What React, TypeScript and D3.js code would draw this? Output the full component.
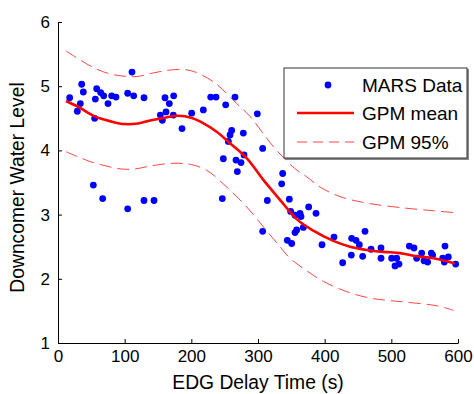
import React, { useRef, useEffect } from 'react';
import * as d3 from 'd3';

// MARS data points (EDG delay time, downcomer water level)
const marsTime = [17.5, 29, 33.5, 35.5, 38, 53, 55, 56, 58, 64, 67, 68.5, 75, 80.5, 87, 104.5, 104.5, 111, 113.5, 129, 129, 144,
  153.5, 156.5, 160.5, 162, 167, 173, 173.5, 186, 200.5, 218, 229, 237, 251.5, 265.5, 299, 260.5, 258, 255.5, 278, 307, 279,
  248, 267, 274.5, 269, 246.5, 314, 337, 335.5, 347, 376, 387, 349, 355.5, 363, 364.5, 368, 358, 355.5, 307, 344, 350.5,
  396, 414, 440.5, 447, 452, 460.5, 469.5, 484.5, 484.5, 440, 427, 457, 500.5, 508, 505.5, 511.5, 527, 534, 538, 545.5,
  549, 554.5, 560, 562, 580.5, 577, 579.5, 585.5, 596.5];
const marsLevel = [4.82, 4.61, 4.73, 5.03, 4.91, 3.46, 4.50, 4.80, 4.96, 4.90, 3.25, 4.85, 4.73, 4.85, 4.83, 4.89, 3.09, 5.22, 4.85, 4.82, 3.22, 3.22,
  4.55, 4.47, 4.82, 4.60, 4.73, 4.55, 4.85, 4.34, 4.58, 4.63, 4.83, 4.83, 4.71, 4.83, 4.57, 4.31, 4.24, 4.14, 4.27, 4.03, 3.93,
  3.87, 3.85, 3.81, 3.67, 3.25, 3.22, 3.64, 3.48, 3.24, 3.12, 3.02, 3.05, 2.99, 3.02, 2.97, 2.80, 2.76, 2.72, 2.74, 2.60, 2.55,
  2.53, 2.65, 2.63, 2.60, 2.53, 2.74, 2.46, 2.48, 2.32, 2.37, 2.25, 2.35, 2.32, 2.32, 2.20, 2.23, 2.51, 2.48, 2.32, 2.40,
  2.28, 2.26, 2.40, 2.37, 2.51, 2.32, 2.26, 2.34, 2.23];

// GPM mean
const meanTime = [12, 30, 55, 80, 100, 120, 140, 160, 180, 200, 215, 238, 258, 283, 308, 333, 358, 383, 413, 438, 463, 488, 513, 538, 563, 595];
const meanLevel = [4.77, 4.68, 4.53, 4.45, 4.41, 4.42, 4.47, 4.51, 4.54, 4.51, 4.44, 4.29, 4.11, 3.88, 3.54, 3.23, 2.93, 2.75, 2.59, 2.50, 2.45, 2.42, 2.40, 2.35, 2.32, 2.24];

// GPM 95% bounds
const upperTime = [12, 33, 55, 75, 95, 118, 140, 160, 180, 200, 233, 268, 288, 323, 355, 373, 393, 423, 463, 513, 563, 595];
const upperLevel = [5.55, 5.41, 5.28, 5.20, 5.16, 5.15, 5.20, 5.24, 5.26, 5.24, 5.07, 4.73, 4.53, 4.06, 3.72, 3.59, 3.43, 3.28, 3.18, 3.11, 3.06, 3.03];
const lowerTime = [12, 30, 50, 75, 95, 115, 135, 160, 180, 200, 223, 253, 283, 308, 333, 348, 378, 398, 433, 468, 498, 528, 568, 593];
const lowerLevel = [3.98, 3.90, 3.82, 3.75, 3.71, 3.71, 3.75, 3.79, 3.80, 3.78, 3.69, 3.43, 3.12, 2.81, 2.50, 2.32, 2.09, 1.96, 1.80, 1.70, 1.66, 1.63, 1.58, 1.51];

const xTicks = [0, 100, 200, 300, 400, 500, 600];
const yTicks = [1, 2, 3, 4, 5, 6];
const legendLabels = ['MARS Data', 'GPM mean', 'GPM 95%'];

function App() {
  const ref = useRef<SVGSVGElement>(null);

  useEffect(() => {
    const svg = d3.select(ref.current);
    svg.selectAll('*').remove();

    const width = 474;
    const height = 394;
    const margin = { top: 22, right: 16, bottom: 51, left: 58 };
    const font = 'Arial, "Liberation Sans", sans-serif';

    const x = d3.scaleLinear().domain([0, 600]).range([margin.left, width - margin.right]);
    const y = d3.scaleLinear().domain([1, 6]).range([height - margin.bottom, margin.top]);

    svg.append('rect').attr('width', width).attr('height', height).attr('fill', 'white');

    // scatter
    svg.append('g')
      .selectAll('circle')
      .data(marsTime.map((t, i) => [t, marsLevel[i]]))
      .enter().append('circle')
      .attr('cx', d => x(d[0]))
      .attr('cy', d => y(d[1]))
      .attr('r', 3.4)
      .attr('fill', '#0000ff');

    const line = d3.line<number[]>().x(d => x(d[0])).y(d => y(d[1])).curve(d3.curveCatmullRom);

    const bound = (ts: number[], vs: number[]) => ts.map((t, i) => [t, vs[i]]);
    [bound(upperTime, upperLevel), bound(lowerTime, lowerLevel)].forEach(pts => {
      svg.append('path')
        .attr('d', line(pts))
        .attr('fill', 'none')
        .attr('stroke', '#ff3030')
        .attr('stroke-width', 0.9)
        .attr('stroke-dasharray', '12,6');
    });

    svg.append('path')
      .attr('d', line(bound(meanTime, meanLevel)))
      .attr('fill', 'none')
      .attr('stroke', '#ff0000')
      .attr('stroke-width', 2.6);

    // axes
    const xAxis = svg.append('g')
      .attr('transform', `translate(0,${height - margin.bottom})`)
      .call(d3.axisBottom(x).tickValues(xTicks).tickFormat(d3.format('d')).tickSizeInner(-4).tickSizeOuter(0).tickPadding(7));
    const yAxis = svg.append('g')
      .attr('transform', `translate(${margin.left},0)`)
      .call(d3.axisLeft(y).tickValues(yTicks).tickFormat(d3.format('d')).tickSizeInner(-4).tickSizeOuter(0).tickPadding(8));
    [xAxis, yAxis].forEach(a => {
      a.selectAll('text').attr('font-family', font).attr('font-size', 17).attr('fill', '#000');
      a.selectAll('line, path').attr('stroke', '#000');
    });

    svg.append('text')
      .attr('x', (margin.left + width - margin.right) / 2)
      .attr('y', 389)
      .attr('text-anchor', 'middle')
      .attr('font-family', font)
      .attr('font-size', 19.3)
      .text('EDG Delay Time (s)');

    svg.append('text')
      .attr('transform', `translate(24,${(margin.top + height - margin.bottom) / 2 + 5}) rotate(-90)`)
      .attr('text-anchor', 'middle')
      .attr('font-family', font)
      .attr('font-size', 19.3)
      .text('Downcomer Water Level');

    // legend
    const lg = svg.append('g').attr('transform', 'translate(284,68)');
    lg.append('rect')
      .attr('x', 1).attr('y', 1).attr('width', 184).attr('height', 91)
      .attr('fill', '#888');
    lg.append('rect')
      .attr('width', 183).attr('height', 90)
      .attr('fill', 'white').attr('stroke', '#333').attr('stroke-width', 1);
    const rowY = [17, 45, 74];
    legendLabels.forEach((label, i) => {
      lg.append('text')
        .attr('x', 78).attr('y', rowY[i] + 6.5)
        .attr('font-family', font).attr('font-size', 19)
        .text(label);
    });
    lg.append('circle').attr('cx', 44).attr('cy', rowY[0]).attr('r', 3.4).attr('fill', '#0000ff');
    lg.append('line').attr('x1', 13).attr('x2', 70).attr('y1', rowY[1]).attr('y2', rowY[1])
      .attr('stroke', '#ff0000').attr('stroke-width', 2.6);
    lg.append('line').attr('x1', 13).attr('x2', 70).attr('y1', rowY[2]).attr('y2', rowY[2])
      .attr('stroke', '#ff3030').attr('stroke-width', 0.9).attr('stroke-dasharray', '10,6');
  }, []);

  return <svg ref={ref} width={474} height={394} style={{ position: 'absolute', left: 0, top: 0 }}></svg>;
}

export default App;
